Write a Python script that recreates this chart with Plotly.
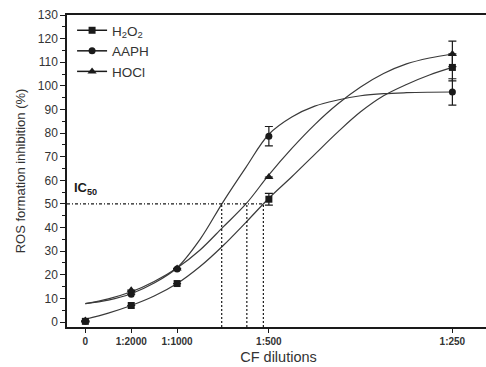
import plotly.graph_objects as go

# ---- data (x in CF concentration units: 1:2000 = 0.5, 1:1000 = 1, ...) ----
tick_vals = [0, 0.5, 1, 2, 4]
tick_text = ["0", "1:2000", "1:1000", "1:500", "1:250"]

# measured points
pt_x = [0, 0.5, 1, 2, 4]
h2o2_y = [0.3, 7.0, 16.3, 52.0, 107.8]
h2o2_err = [0, 0, 0, 2.5, 5.7]
aaph_y = [0.3, 11.8, 22.5, 78.7, 97.4]
aaph_err = [0, 0, 0, 4.1, 5.6]
hocl_y = [0.6, 13.5, 22.7, 61.4, 113.5]
hocl_err = [0, 0, 0, 0, 5.4]

# fitted curves (values at regular steps)
curve_x = [0, 0.25, 0.5, 0.75, 1, 1.25, 1.5, 1.75, 2, 2.25, 2.5, 2.75, 3, 3.25, 3.5, 3.75, 4]
h2o2_cy = [1.2, 3.8, 7.0, 11.0, 16.3, 23.5, 32.3, 42.2, 52.4, 61.5, 71.0, 80.4, 89.0, 95.8, 100.6, 104.6, 107.8]
aaph_cy = [7.8, 9.3, 12.0, 16.5, 23.0, 35.0, 50.8, 65.5, 79.5, 86.8, 91.4, 94.0, 95.8, 96.7, 97.1, 97.3, 97.4]
hocl_cy = [7.8, 9.8, 12.8, 17.2, 22.9, 30.5, 40.2, 50.0, 62.3, 73.5, 83.6, 92.3, 99.5, 105.2, 109.3, 111.8, 113.5]

ic50_level = 50
ic50_x = [1.486, 1.76, 1.94]

LINE = "#3a3a3a"
INK = "#1a1a1a"
FONT = "Liberation Sans, Arial, sans-serif"

fig = go.Figure()

for cy in [h2o2_cy, aaph_cy, hocl_cy]:
    fig.add_trace(go.Scatter(x=curve_x, y=cy, mode="lines",
                             line=dict(color=LINE, width=1.2, shape="spline", smoothing=1.0),
                             showlegend=False, hoverinfo="skip"))

series = [
    ("H<sub>2</sub>O<sub>2</sub>", "square", h2o2_y, h2o2_err, 7),
    ("AAPH", "circle", aaph_y, aaph_err, 7),
    ("HOCl", "triangle-up", hocl_y, hocl_err, 8),
]
for name, sym, ys, errs, sz in series:
    fig.add_trace(go.Scatter(
        x=pt_x, y=ys, mode="markers",
        marker=dict(symbol=sym, size=sz, color=INK),
        error_y=dict(type="data", array=errs, visible=True, color=INK, thickness=1.2, width=4),
        showlegend=False))
    fig.add_trace(go.Scatter(
        x=[None], y=[None], mode="lines+markers", name=name,
        marker=dict(symbol=sym, size=sz, color=INK), line=dict(color=INK, width=1.5)))

# IC50 guide lines
fig.add_shape(type="line", xref="x", yref="y", x0=-0.2, x1=max(ic50_x), y0=ic50_level, y1=ic50_level,
              line=dict(color=INK, width=1.2, dash="3px,2px,1px,2px"))
for xv in ic50_x:
    fig.add_shape(type="line", xref="x", yref="y", x0=xv, x1=xv, y0=-2.1, y1=ic50_level,
                  line=dict(color=INK, width=1.2, dash="2px,2px"))

fig.add_annotation(x=-0.148, y=56.5, xref="x", yref="y", text="<b>IC<sub>50</sub></b>", showarrow=False,
                   xanchor="left", yanchor="middle", font=dict(family=FONT, size=13, color=INK))

fig.update_layout(
    width=490, height=367,
    margin=dict(l=67, r=0, t=15, b=40),
    paper_bgcolor="white", plot_bgcolor="white",
    font=dict(family=FONT, color="#333333"),
    legend=dict(x=0.012, y=1.0, xanchor="left", yanchor="top", bgcolor="rgba(0,0,0,0)",
                font=dict(family=FONT, size=13.5, color="#333333"), tracegroupgap=0, itemwidth=30),
    xaxis=dict(range=[-0.2, 4.41], tickvals=tick_vals, ticktext=["<b>%s</b>" % t for t in tick_text],
               tickfont=dict(size=10, color="#333333"), ticks="outside", ticklen=4, tickwidth=1.2,
               tickcolor=INK, showline=True, linecolor=INK, linewidth=1.5, mirror=True,
               showgrid=False, zeroline=False,
               title=dict(text="CF dilutions", font=dict(size=14.5, color="#333333"), standoff=6)),
    yaxis=dict(range=[-2.1, 130], tickvals=list(range(0, 131, 10)), tickfont=dict(size=12, color="#333333"),
               ticks="outside", ticklen=5, tickwidth=1.2, tickcolor=INK,
               minor=dict(tickvals=list(range(5, 130, 10)), ticks="outside", ticklen=3, tickcolor=INK, tickwidth=1),
               showline=True, linecolor=INK, linewidth=1.5, mirror=False, showgrid=False, zeroline=False,
               title=dict(text="ROS formation inhibition (%)", font=dict(size=13, color="#333333"), standoff=9)),
)

fig.write_html("out.html", config={"displayModeBar": False},
               post_script="document.body.style.margin='0px';document.body.style.overflow='hidden';")
